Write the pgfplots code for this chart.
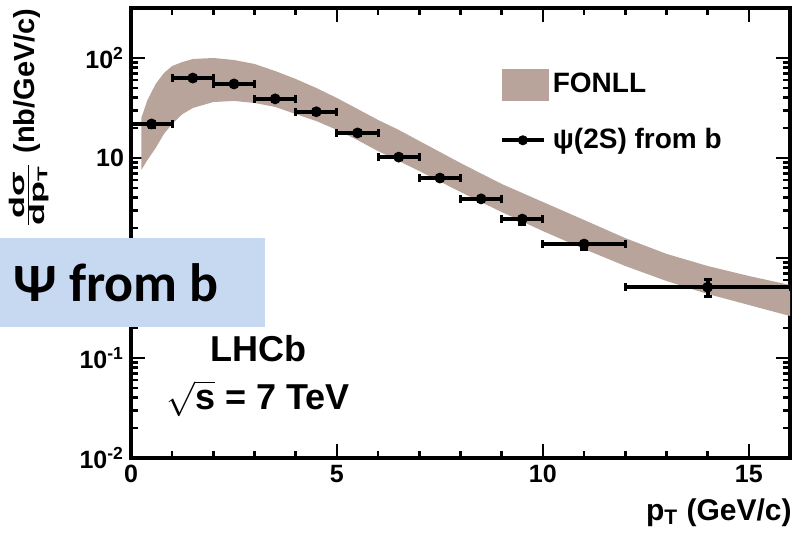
\documentclass[border=0pt]{standalone}
\usepackage{pgfplots}
\pgfplotsset{compat=1.18}
\usepackage{fontspec}
\setmainfont{Liberation Sans}
\newfontfamily\calibri{Carlito}
\definecolor{fonll}{RGB}{184,164,154}
\definecolor{boxblue}{RGB}{198,217,240}

\begin{document}
\begin{tikzpicture}
\begin{axis}[name=ax,
  scale only axis, width=329.5pt, height=225pt,
  xmin=0, xmax=16,
  ymode=log, ymin=0.01, ymax=316.2,
  xtick={0,5,10,15}, minor x tick num=4,
  ytick={0.01,0.1,1,10,100},
  xticklabels={0,5,10,15},
  % the label of 1 sits under the blue box in the original
  yticklabels={10\textsuperscript{-2},10\textsuperscript{-1},,10,10\textsuperscript{2}},
  xtick pos=both, ytick pos=both,
  xticklabel pos=left, yticklabel pos=left,
  tick align=inside,
  major tick length=7pt, minor tick length=3.5pt,
  every tick/.style={black, line width=1.3pt},
  axis line style={line width=2pt},
  tick label style={font=\bfseries\fontsize{12.5}{14}\selectfont},
  xlabel={p\textsubscript{T} (GeV/c)},
  xlabel style={font=\bfseries\fontsize{15}{17}\selectfont,
    at={(rel axis cs:1,0)}, anchor=north east, yshift=-20pt, xshift=1pt, inner sep=0pt},
  ylabel={\scalebox{1.5}[0.88]{$\frac{\mbox{\fontsize{12}{13}\selectfont dσ}}{\mbox{\fontsize{12}{13}\selectfont dp\textsubscript{T}}}$} (nb/GeV/c)},
  ylabel style={font=\bfseries\fontsize{14.5}{16}\selectfont,
    at={([xshift=-41pt]rel axis cs:0,1)}, anchor=south east, inner sep=0pt},
  legend style={at={(rel axis cs:0.55,0.875)}, anchor=north west,
    draw=none, fill=none, font=\bfseries\fontsize{14}{16}\selectfont,
    row sep=12pt, cells={anchor=west}},
]
% FONLL band: upper edge then lower edge back
\addplot[fill=fonll, draw=none,
  legend image code/.code={\fill[fonll] (0pt,-8pt) rectangle (23.5pt,8pt);}]
  coordinates {
  (0.25,25.1) (0.4,38.0) (0.6,55.0) (0.8,70.8) (1.0,83.2) (1.25,91.2)
  (1.5,97.7) (2.0,100) (2.5,95.5) (3.0,87.1) (3.5,74.1) (4.0,61.7)
  (4.5,50.1) (5.0,39.8) (5.5,30.9) (6.0,24.0) (6.5,19.1) (7.0,14.8)
  (8.0,8.91) (9.0,5.50) (10.0,3.63) (11.0,2.40) (12.0,1.58) (13.0,1.10)
  (14.0,0.832) (15.0,0.661) (16.0,0.537)
  (16.0,0.263) (15.0,0.339) (14.0,0.437) (13.0,0.589) (12.0,0.832)
  (11.0,1.23) (10.0,1.86) (9.0,2.88) (8.0,4.57) (7.0,7.41) (6.5,9.33)
  (6.0,11.7) (5.5,15.1) (5.0,19.1) (4.5,23.4) (4.0,27.5) (3.5,32.4)
  (3.0,35.5) (2.5,37.2) (2.0,36.3) (1.5,31.6) (1.25,27.5) (1.0,21.9)
  (0.8,17.4) (0.6,12.6) (0.4,9.55) (0.25,7.59)
  } -- cycle;
\addlegendentry{FONLL}

% psi(2S) from b
\addplot[black, only marks, mark=*, mark size=2.5pt,
  legend image code/.code={\draw[line width=2pt] (0pt,0pt) -- (21pt,0pt);
    \fill (10.5pt,0pt) circle (2.3pt);},
  error bars/.cd, x dir=both, x explicit, y dir=both, y explicit,
  error bar style={line width=2pt},
  error mark=|,
  error mark options={line width=1.5pt, mark size=2pt}]
  coordinates {
  (0.5,21.9) +- (0.5,1.5)
  (1.5,63) +- (0.5,3)
  (2.5,55) +- (0.5,2.5)
  (3.5,39) +- (0.5,2)
  (4.5,29) +- (0.5,1.5)
  (5.5,17.8) +- (0.5,0.9)
  (6.5,10.2) +- (0.5,0.5)
  (7.5,6.3) +- (0.5,0.3)
  (8.5,3.9) +- (0.5,0.2)
  (9.5,2.45) += (0.5,0.1) -= (0.5,0.3)
  (11,1.38) += (1,0.08) -= (1,0.15)
  (14,0.51) +- (2,0.1)
  };
\addlegendentry{ψ(2S) from b}

\node[anchor=base, font=\bfseries\fontsize{18}{20}\selectfont, inner sep=0pt]
  at (axis cs:3.1,0.0933) {LHCb};
\node[anchor=base, font=\bfseries\fontsize{18}{20}\selectfont, inner sep=0pt]
  at (axis cs:3.08,0.0302) {$\sqrt{\mbox{s}}$ = 7 TeV};
\end{axis}

% label box on top of the left axis line
\fill[boxblue] ([xshift=-65.5pt,yshift=65.5pt]ax.south west)
  rectangle ([xshift=67pt,yshift=110pt]ax.south west);
\node[anchor=base west, inner sep=0pt, font=\calibri\bfseries\fontsize{27}{30}\selectfont]
  at ([xshift=-59pt,yshift=78pt]ax.south west) {Ψ from b};

\pgfresetboundingbox
\path[use as bounding box] ([xshift=-65.5pt,yshift=-40.5pt]ax.south west)
  rectangle ([xshift=2pt,yshift=4pt]ax.north east);
\end{tikzpicture}
\end{document}
